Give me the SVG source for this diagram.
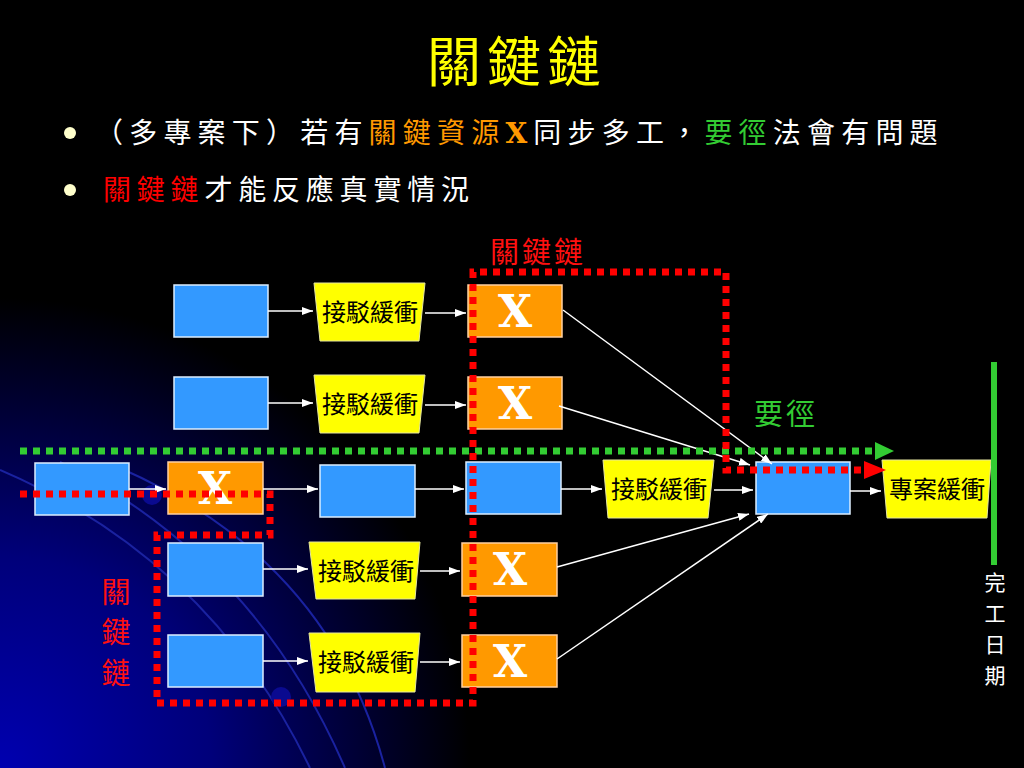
<svg xmlns="http://www.w3.org/2000/svg" width="1024" height="768" viewBox="0 0 1024 768">
<defs>
<radialGradient id="bg" cx="0" cy="768" r="470" gradientUnits="userSpaceOnUse">
<stop offset="0" stop-color="#0000B0"/>
<stop offset="0.45" stop-color="#00007A"/>
<stop offset="1" stop-color="#000000"/>
</radialGradient>
<marker id="wa" markerWidth="11" markerHeight="8" refX="11" refY="4" orient="auto" markerUnits="userSpaceOnUse">
<path d="M0,0 L11,4 L0,8 z" fill="#ffffff"/>
</marker>
<style>
.cjk{font-family:"Noto Sans CJK TC","Noto Sans CJK SC",sans-serif}
.blue{fill:#3399FF;stroke:#DDEEFF;stroke-width:1.5}
.orange{fill:#FF9900;stroke:#FFD0A0;stroke-width:1.5}
.yel{fill:#FFFF00;stroke:#E6E6A0;stroke-width:1}
.ytxt{font-family:"Noto Sans CJK TC","Noto Sans CJK SC",sans-serif;font-size:24px;fill:#000;text-anchor:middle}
.xt{font-family:"DejaVu Serif",serif;font-weight:bold;font-size:44px;fill:#fff;text-anchor:middle}
.con{stroke:#fff;stroke-width:1.5;fill:none;marker-end:url(#wa)}
.arc{stroke:#1A22A0;stroke-width:2;fill:none}
</style>
</defs>
<rect width="1024" height="768" fill="#000"/>
<rect width="1024" height="768" fill="url(#bg)"/>
<g id="decor">
<path class="arc" d="M0 470 Q210 560 310 768"/>
<path class="arc" d="M60 462 Q255 560 345 768"/>
<path class="arc" d="M120 468 Q330 560 385 768"/>
<circle cx="152" cy="495" r="10" fill="#0A0A90"/>
<circle cx="281" cy="697" r="10" fill="#0A0A90"/>
</g>

<g id="title"><text x="517" y="82" class="cjk" font-size="54" fill="#FFFF00" text-anchor="middle" letter-spacing="6">關鍵鏈</text></g>

<g id="bullets">
<circle cx="70" cy="133" r="6" fill="#FFFFCC"/>
<text x="95" y="143" class="cjk" font-size="28" fill="#fff" letter-spacing="6.2">（多專案下）若有<tspan fill="#FF9900">關鍵資源</tspan><tspan fill="#FF9900" font-family="DejaVu Serif" font-weight="bold">X</tspan>同步多工，<tspan fill="#33CC33">要徑</tspan>法會有問題</text>
<circle cx="70" cy="190" r="6" fill="#FFFFCC"/>
<text x="103" y="200" class="cjk" font-size="28" fill="#fff" letter-spacing="5.8"><tspan fill="#FF0000">關鍵鏈</tspan>才能反應真實情況</text>
</g>

<g id="labels">
<text x="490" y="263" class="cjk" font-size="29" fill="#FF1010" letter-spacing="3">關鍵鏈</text>
<text x="786" y="425" class="cjk" font-size="29" fill="#33CC33" text-anchor="middle" letter-spacing="3">要徑</text>
<text class="cjk" font-size="29" fill="#FF1010" text-anchor="middle"><tspan x="116" y="603">關</tspan><tspan x="116" y="643">鍵</tspan><tspan x="116" y="684">鏈</tspan></text>
<text class="cjk" font-size="21" fill="#fff" text-anchor="middle"><tspan x="995" y="590">完</tspan><tspan x="995" y="621">工</tspan><tspan x="995" y="652">日</tspan><tspan x="995" y="683">期</tspan></text>
</g>

<g id="r1a"><rect class="blue" x="174" y="285" width="94" height="52"/></g>
<g id="r1b"><polygon class="yel" points="314,283 425,283 419,341 320,341"/><text class="ytxt" x="370" y="321">接駁緩衝</text></g>
<g id="r1c"><rect class="orange" x="468" y="285" width="94" height="52"/><text class="xt" x="515" y="327">X</text></g>

<g id="r2a"><rect class="blue" x="174" y="377" width="94" height="52"/></g>
<g id="r2b"><polygon class="yel" points="314,375 425,375 419,433 320,433"/><text class="ytxt" x="370" y="413">接駁緩衝</text></g>
<g id="r2c"><rect class="orange" x="468" y="377" width="94" height="52"/><text class="xt" x="515" y="419">X</text></g>

<g id="r3a"><rect class="blue" x="35" y="463" width="94" height="52"/></g>
<g id="r3b"><rect class="orange" x="168" y="462" width="95" height="52"/><text class="xt" x="215" y="504">X</text></g>
<g id="r3c"><rect class="blue" x="320" y="465" width="95" height="52"/></g>
<g id="r3d"><rect class="blue" x="466" y="462" width="95" height="52"/></g>
<g id="r3e"><polygon class="yel" points="603,460 714,460 708,518 608,518"/><text class="ytxt" x="659" y="498">接駁緩衝</text></g>
<g id="r3f"><rect class="blue" x="756" y="462" width="94" height="52"/></g>
<g id="r3g"><polygon class="yel" points="882,460 991,460 987,518 887,518"/><text class="ytxt" x="937" y="498">專案緩衝</text></g>

<g id="r4a"><rect class="blue" x="168" y="543" width="95" height="53"/></g>
<g id="r4b"><polygon class="yel" points="309,542 420,542 415,599 316,599"/><text class="ytxt" x="366" y="580">接駁緩衝</text></g>
<g id="r4c"><rect class="orange" x="462" y="543" width="95" height="53"/><text class="xt" x="510" y="585">X</text></g>

<g id="r5a"><rect class="blue" x="168" y="635" width="95" height="52"/></g>
<g id="r5b"><polygon class="yel" points="309,633 420,633 415,692 316,692"/><text class="ytxt" x="366" y="671">接駁緩衝</text></g>
<g id="r5c"><rect class="orange" x="462" y="635" width="95" height="52"/><text class="xt" x="510" y="677">X</text></g>

<g id="connectors">
<path class="con" d="M268 311 H313"/>
<path class="con" d="M425 313 H466"/>
<path class="con" d="M268 403 H313"/>
<path class="con" d="M425 405 H466"/>
<path class="con" d="M129 489 H166"/>
<path class="con" d="M263 489 H318"/>
<path class="con" d="M415 489 H464"/>
<path class="con" d="M561 489 H602"/>
<path class="con" d="M714 490 H753"/>
<path class="con" d="M850 491 H881"/>
<path class="con" d="M263 569 H308"/>
<path class="con" d="M420 571 H460"/>
<path class="con" d="M263 661 H308"/>
<path class="con" d="M420 662 H460"/>
<path class="con" d="M563 310 L772 464"/>
<path class="con" d="M559 406 L750 465"/>
<path class="con" d="M557 567 L749 514"/>
<path class="con" d="M557 659 L768 514"/>
</g>

<g id="paths">
<path d="M20 451 H876" stroke="#33CC33" stroke-width="7" stroke-dasharray="7 6" fill="none"/>
<polygon points="875,442 894,451 875,460" fill="#33CC33"/>
<path d="M20 494 H270 V535 H157 V703 H473 V272 H726 V470 H866" stroke="#FF0000" stroke-width="7" stroke-dasharray="7 6" fill="none"/>
<polygon points="864,461 886,470 864,479" fill="#FF0000"/>
<rect x="991" y="362" width="6" height="203" fill="#33CC33"/>
</g>
</svg>
